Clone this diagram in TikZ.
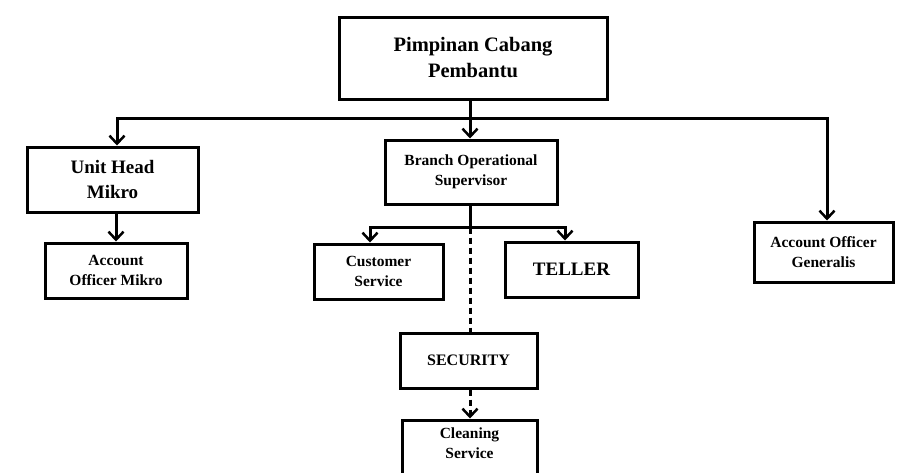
\documentclass[tikz,border=0pt]{standalone}
\usepackage{fontspec}
\setmainfont{Liberation Serif}
\usetikzlibrary{arrows.meta}
\begin{document}
\begin{tikzpicture}[x=1pt,y=-1pt,
  box/.style={draw=black, line width=3pt, fill=white, align=center, inner sep=2pt},
  big/.style={font=\bfseries\fontsize{20.5}{26}\selectfont},
  mid/.style={font=\bfseries\fontsize{19}{25}\selectfont},
  small/.style={font=\bfseries\fontsize{15.5}{20}\selectfont},
  link/.style={line width=3pt},
  tip/.style={-{Straight Barb[length=8pt,width=15pt,line width=2.5pt]}},
  arr/.style={link, tip},
  dashlink/.style={link, dash pattern=on 6pt off 4pt}
]
\clip (0,0) rectangle (903,472);
\fill[white] (0,0) rectangle (903,472);

\node[box, big, minimum width=268pt, minimum height=82pt] (top) at (473,58) {Pimpinan Cabang\\Pembantu};
\node[box, mid, minimum width=171pt, minimum height=65pt] (unit) at (112.5,179.5) {Unit Head\\Mikro};
\node[box, small, minimum width=142pt, minimum height=55pt] (aom) at (116,270.5) {Account\\Officer Mikro};
\node[box, small, minimum width=172pt, minimum height=64pt] (bos) at (471,172) {Branch Operational\\Supervisor};
\node[box, small, minimum width=129pt, minimum height=55pt] (cs) at (378.5,271.5) {Customer\\Service};
\node[box, mid, minimum width=133pt, minimum height=55pt] (teller) at (571.5,269.5) {TELLER};
\node[box, small, minimum width=139pt, minimum height=60pt] (aog) at (823.5,252) {Account Officer\\Generalis};
\node[box, small, font=\bfseries\fontsize{16}{20}\selectfont, minimum width=137pt, minimum height=55pt] (sec) at (468.5,360.5) {SECURITY};
\node[box, minimum width=135pt, minimum height=80pt] (clean) at (469.5,460) {};
\node[small, align=center, anchor=north] (cleantext) at (469.5,424) {Cleaning\\Service};

% top-level bus
\draw[link] ([xshift=-3pt]top.south) -- ++(0,18) coordinate (bus);
\draw[arr] (bus) -| ([xshift=4.5pt]unit.north);
\draw[arr] (bus) -| ([xshift=3.5pt]aog.north);
\draw[arr] (bus) -- (bus |- bos.north);
\draw[arr] ([xshift=3.5pt]unit.south) -- (aom.north);

% branch bus
\draw[link] ([xshift=-1pt]bos.south) -- ++(0,22) coordinate (bus2);
\draw[arr] (bus2) -| ([xshift=-8.5pt]cs.north);
\draw[arr] (bus2) -| ([xshift=-6.5pt]teller.north);
\draw[dashlink] (bus2) -- (bus2 |- sec.north);
\draw[dashlink, tip] (bus2 |- sec.south) -- (bus2 |- clean.north);
\end{tikzpicture}
\end{document}
